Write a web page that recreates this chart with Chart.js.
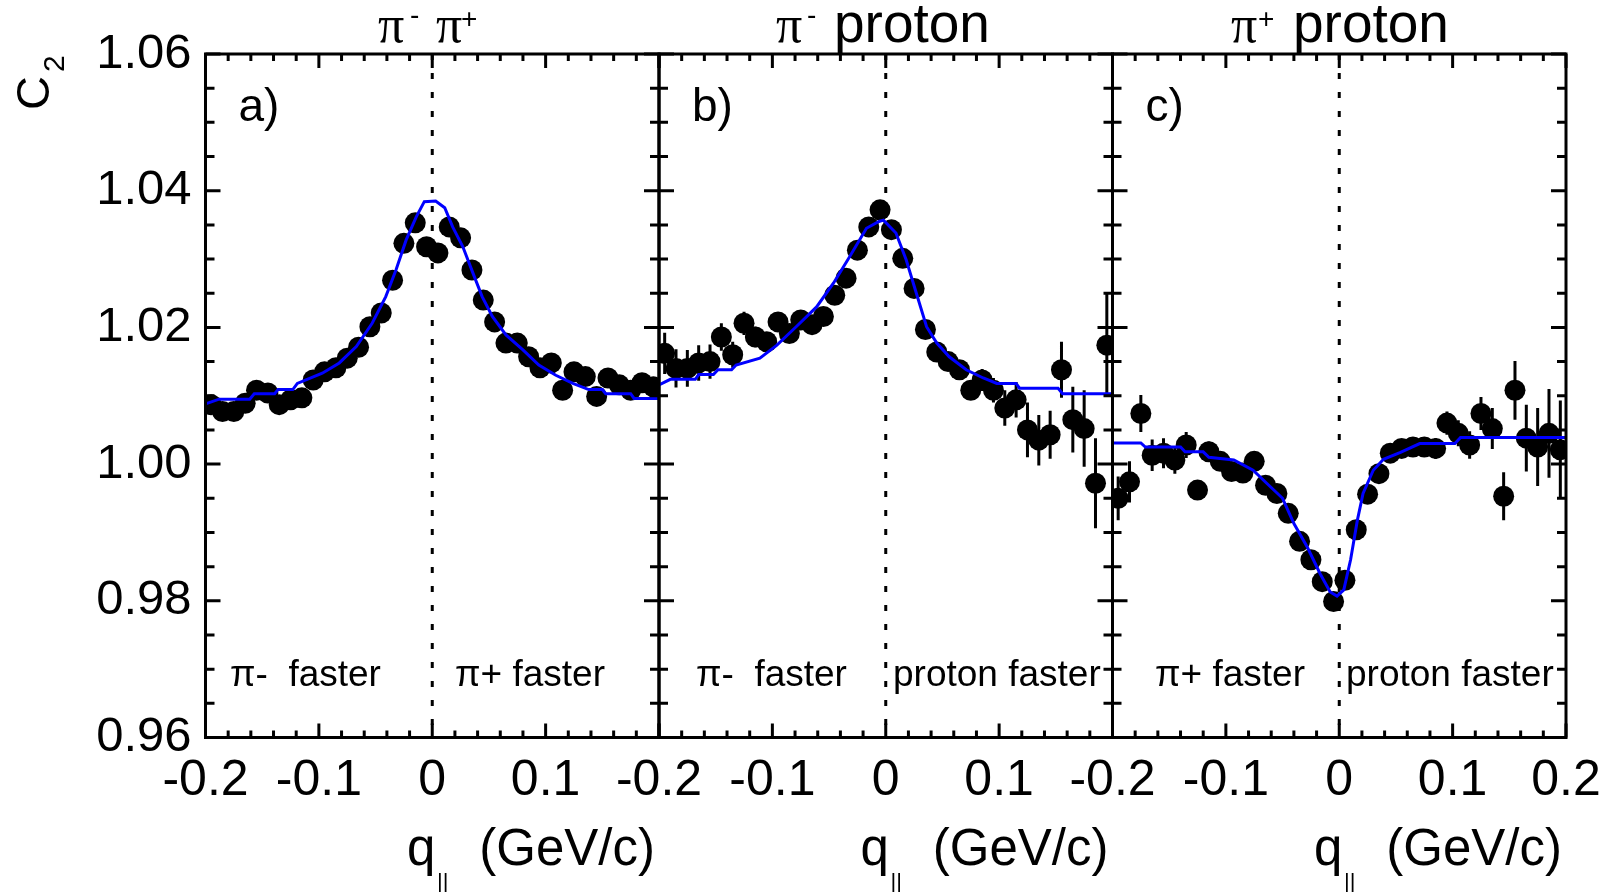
<!DOCTYPE html>
<html>
<head>
<meta charset="utf-8">
<title>C2 vs q||</title>
<script src="https://cdn.jsdelivr.net/npm/chart.js@4.4.1/dist/chart.umd.min.js"></script>
<style>
  html, body { margin: 0; padding: 0; background: #fff; }
  #wrap { position: relative; width: 1611px; height: 892px; }
  #wrap canvas { position: absolute; left: 0; top: 0; }
</style>
</head>
<body>
<div id="wrap">
  <canvas id="panelA" width="1611" height="892"></canvas>
  <canvas id="panelB" width="1611" height="892"></canvas>
  <canvas id="panelC" width="1611" height="892"></canvas>
</div>
<script>
// bin centres of q|| (GeV/c), shared by the three panels
const qBins = [-0.195, -0.185, -0.175, -0.165, -0.155, -0.145, -0.135, -0.125, -0.115, -0.105,
               -0.095, -0.085, -0.075, -0.065, -0.055, -0.045, -0.035, -0.025, -0.015, -0.005,
                0.005,  0.015,  0.025,  0.035,  0.045,  0.055,  0.065,  0.075,  0.085,  0.095,
                0.105,  0.115,  0.125,  0.135,  0.145,  0.155,  0.165,  0.175,  0.185,  0.195];

// a) pi- pi+
const c2A = [1.0087, 1.0077, 1.0077, 1.0089, 1.0108, 1.0104, 1.0087, 1.0094, 1.0097, 1.0123,
             1.0135, 1.0141, 1.0155, 1.0171, 1.0201, 1.0221, 1.0269, 1.0323, 1.0353, 1.0318,
             1.0309, 1.0347, 1.0331, 1.0284, 1.0240, 1.0208, 1.0177, 1.0177, 1.0157, 1.0141,
             1.0148, 1.0108, 1.0135, 1.0128, 1.0099, 1.0126, 1.0116, 1.0108, 1.0119, 1.0113];
const errA = [0.0010, 0.0010, 0.0010, 0.0009, 0.0009, 0.0009, 0.0008, 0.0008, 0.0008, 0.0008,
              0.0007, 0.0007, 0.0007, 0.0007, 0.0007, 0.0007, 0.0007, 0.0007, 0.0007, 0.0007,
              0.0007, 0.0007, 0.0007, 0.0007, 0.0007, 0.0007, 0.0007, 0.0007, 0.0007, 0.0007,
              0.0008, 0.0008, 0.0008, 0.0008, 0.0009, 0.0009, 0.0009, 0.0010, 0.0010, 0.0010];
const fitAx = [-0.200, -0.188, -0.161, -0.157, -0.139, -0.136, -0.123, -0.119, -0.097, -0.082,
               -0.067, -0.053, -0.041, -0.032, -0.023, -0.014, -0.007, 0.003, 0.011, 0.018,
                0.027,  0.036,  0.044,  0.053,  0.065,  0.080,  0.094, 0.109, 0.124, 0.138,
                0.150,  0.153,  0.175,  0.178,  0.200];
const fitAy = [1.0088, 1.0095, 1.0095, 1.0103, 1.0103, 1.0109, 1.0109, 1.0118, 1.0133, 1.0148,
               1.0172, 1.0206, 1.0245, 1.0284, 1.0328, 1.0362, 1.0384, 1.0385, 1.0375, 1.0347,
               1.0318, 1.0279, 1.0245, 1.0216, 1.0189, 1.0167, 1.0145, 1.0130, 1.0118, 1.0109,
               1.0109, 1.0103, 1.0103, 1.0096, 1.0096];

// b) pi- proton
const c2B = [1.0162, 1.0140, 1.0140, 1.0148, 1.0150, 1.0186, 1.0160, 1.0206, 1.0186, 1.0179,
             1.0208, 1.0191, 1.0211, 1.0204, 1.0216, 1.0247, 1.0272, 1.0313, 1.0347, 1.0372,
             1.0343, 1.0301, 1.0257, 1.0197, 1.0164, 1.0150, 1.0138, 1.0108, 1.0123, 1.0108,
             1.0082, 1.0094, 1.0050, 1.0035, 1.0043, 1.0138, 1.0065, 1.0052, 0.9972, 1.0174];
const errB = [0.0030, 0.0028, 0.0027, 0.0026, 0.0025, 0.0020, 0.0019, 0.0017, 0.0015, 0.0014,
              0.0013, 0.0012, 0.0011, 0.0010, 0.0010, 0.0009, 0.0009, 0.0009, 0.0009, 0.0009,
              0.0009, 0.0009, 0.0010, 0.0010, 0.0011, 0.0012, 0.0013, 0.0014, 0.0016, 0.0018,
              0.0026, 0.0026, 0.0040, 0.0037, 0.0035, 0.0041, 0.0048, 0.0056, 0.0066, 0.0075];
const fitBx = [-0.200, -0.190, -0.168, -0.165, -0.152, -0.148, -0.136, -0.132, -0.111, -0.096,
               -0.079, -0.061, -0.046, -0.032, -0.017, -0.006, -0.002, 0.009, 0.018, 0.027,
                0.036,  0.045,  0.056,  0.071,  0.086,  0.098,  0.115, 0.118, 0.152, 0.156,
                0.200];
const fitBy = [1.0116, 1.0124, 1.0124, 1.0131, 1.0131, 1.0138, 1.0138, 1.0145, 1.0155, 1.0174,
               1.0201, 1.0230, 1.0265, 1.0303, 1.0345, 1.0355, 1.0357, 1.0338, 1.0299, 1.0250,
               1.0201, 1.0177, 1.0157, 1.0138, 1.0126, 1.0118, 1.0118, 1.0111, 1.0111, 1.0103,
               1.0103];

// c) pi+ proton
const c2C = [0.9950, 0.9974, 1.0074, 1.0013, 1.0016, 1.0006, 1.0028, 0.9962, 1.0018, 1.0004,
             0.9989, 0.9987, 1.0004, 0.9969, 0.9957, 0.9928, 0.9887, 0.9860, 0.9828, 0.9799,
             0.9830, 0.9904, 0.9956, 0.9986, 1.0016, 1.0023, 1.0025, 1.0025, 1.0023, 1.0060,
             1.0045, 1.0028, 1.0074, 1.0052, 0.9953, 1.0108, 1.0038, 1.0025, 1.0045, 1.0021];
const errC = [0.0032, 0.0030, 0.0027, 0.0023, 0.0022, 0.0020, 0.0019, 0.0012, 0.0015, 0.0014,
              0.0013, 0.0012, 0.0011, 0.0010, 0.0010, 0.0009, 0.0009, 0.0009, 0.0009, 0.0009,
              0.0009, 0.0009, 0.0009, 0.0010, 0.0010, 0.0011, 0.0012, 0.0013, 0.0015, 0.0017,
              0.0019, 0.0020, 0.0024, 0.0030, 0.0035, 0.0043, 0.0049, 0.0057, 0.0065, 0.0072];
const fitCx = [-0.200, -0.175, -0.171, -0.140, -0.136, -0.120, -0.115, -0.093, -0.076, -0.064,
               -0.050, -0.040, -0.028, -0.017, -0.008, -0.002, 0.004, 0.010, 0.016, 0.021,
                0.030,  0.039,  0.054,  0.071,  0.102,  0.107,  0.200];
const fitCy = [1.0031, 1.0031, 1.0025, 1.0025, 1.0018, 1.0018, 1.0010, 1.0006, 0.9991, 0.9972,
               0.9950, 0.9913, 0.9878, 0.9840, 0.9813, 0.9807, 0.9816, 0.9860, 0.9918, 0.9957,
               0.9991, 1.0007, 1.0017, 1.0030, 1.0030, 1.0039, 1.0039];

// tick labels
const yTickLabels = ["0.96", "0.98", "1.00", "1.02", "1.04", "1.06"];
const xTickLabelsInner = ["-0.2", "-0.1", "0", "0.1", ""];
const xTickLabelsLast = ["-0.2", "-0.1", "0", "0.1", "0.2"];

const SANS = '"Liberation Sans", Arial, Helvetica, sans-serif';
const SERIF = '"Liberation Serif", "Times New Roman", serif';
Chart.defaults.font.family = SANS;
Chart.defaults.color = "#000";

// draws pieces of text at given x positions on one baseline
function drawPieces(ctx, pieces, baseline) {
  pieces.forEach((p) => {
    ctx.font = p.font;
    ctx.fillText(p.t, p.x, baseline + (p.dy || 0));
  });
}

const panelDecor = {
  id: "panelDecor",
  beforeDatasetsDraw(chart) {
    const { ctx, chartArea: a, scales: { x, y } } = chart;
    ctx.save();
    // dotted line at q = 0
    const x0 = x.getPixelForValue(0);
    ctx.strokeStyle = "#000";
    ctx.lineWidth = 3;
    ctx.setLineDash([6, 13]);
    ctx.beginPath();
    ctx.moveTo(x0, a.top);
    ctx.lineTo(x0, a.bottom);
    ctx.stroke();
    ctx.setLineDash([]);
    // error bars
    ctx.beginPath();
    chart.data.datasets[1].data.forEach((p) => {
      const px = x.getPixelForValue(p.x);
      ctx.moveTo(px, y.getPixelForValue(p.y + p.err));
      ctx.lineTo(px, y.getPixelForValue(p.y - p.err));
    });
    ctx.stroke();
    ctx.restore();
  },
  afterDatasetsDraw(chart) {
    const { ctx, chartArea: a, scales: { x, y } } = chart;
    ctx.save();
    ctx.strokeStyle = "#000";
    ctx.lineWidth = 3;
    ctx.strokeRect(a.left, a.top, a.right - a.left, a.bottom - a.top);
    // inward ticks
    ctx.beginPath();
    for (let k = -10; k <= 10; k++) {
      const px = x.getPixelForValue(k * 0.02);
      const len = k % 5 === 0 ? 14 : 7;
      ctx.moveTo(px, a.bottom);
      ctx.lineTo(px, a.bottom - len);
      ctx.moveTo(px, a.top);
      ctx.lineTo(px, a.top + len);
    }
    for (let k = 0; k <= 20; k++) {
      const py = y.getPixelForValue(0.96 + k * 0.005);
      const len = k % 4 === 0 ? 15 : 9;
      ctx.moveTo(a.left, py);
      ctx.lineTo(a.left + len, py);
      ctx.moveTo(a.right, py);
      ctx.lineTo(a.right - len, py);
    }
    ctx.stroke();
    ctx.restore();
  },
  afterDraw(chart, args, o) {
    const { ctx, chartArea: a } = chart;
    ctx.save();
    ctx.fillStyle = "#000";
    ctx.textAlign = "left";
    ctx.textBaseline = "alphabetic";
    // title above the panel
    drawPieces(ctx, o.title, 42);
    // panel letter
    ctx.font = "46px " + SANS;
    ctx.fillText(o.letter, a.left + 33, 121);
    // "... faster" notes
    ctx.font = "37px " + SANS;
    o.notes.forEach((n) => ctx.fillText(n.t, n.x, 686));
    // x axis title  q|| (GeV/c)
    ctx.font = "51px " + SANS;
    ctx.fillText("q", a.right - 252, 865);
    ctx.font = "22px " + SANS;
    ctx.fillText("||", a.right - 222, 889);
    ctx.font = "51px " + SANS;
    ctx.textAlign = "right";
    ctx.fillText("(GeV/c)", a.right - 4, 865);
    // y axis title C2 (only on the first panel)
    if (o.yTitle) {
      ctx.textAlign = "left";
      ctx.translate(49, 110);
      ctx.rotate(-Math.PI / 2);
      ctx.font = "47px " + SANS;
      ctx.fillText("C", 0, 0);
      ctx.font = "30px " + SANS;
      ctx.fillText("2", 38, 15);
    }
    ctx.restore();
  },
};

function createPanel(canvasId, p) {
  const ctx = document.getElementById(canvasId).getContext("2d");
  const points = qBins.map((q, i) => ({ x: q, y: p.c2[i], err: p.err[i] }));
  const fit = p.fitX.map((q, i) => ({ x: q, y: p.fitY[i] }));

  return new Chart(ctx, {
    type: "scatter",
    data: {
      datasets: [
        {
          type: "line",
          label: "fit",
          data: fit,
          borderColor: "#0000ff",
          borderWidth: 3,
          pointRadius: 0,
          fill: false,
          tension: 0,
          order: 0,
        },
        {
          label: "data",
          data: points,
          backgroundColor: "#000",
          borderColor: "#000",
          borderWidth: 0,
          pointRadius: 10.5,
          pointHoverRadius: 10.5,
          order: 1,
        },
      ],
    },
    options: {
      responsive: false,
      animation: false,
      devicePixelRatio: 1,
      events: [],
      layout: {
        padding: { left: p.yAxis ? 0 : p.left, right: 1611 - p.right, top: 54, bottom: 0 },
      },
      scales: {
        x: {
          type: "linear",
          min: -0.2,
          max: 0.2,
          afterFit: (s) => { s.height = 154.5; },
          grid: { display: false },
          border: { display: false },
          ticks: {
            stepSize: 0.1,
            autoSkip: false,
            maxRotation: 0,
            padding: 6,
            font: { size: 50 },
            callback: (v, i) => p.xLabels[i],
          },
        },
        y: {
          type: "linear",
          min: 0.96,
          max: 1.06,
          display: p.yAxis,
          afterFit: (s) => { if (p.yAxis) s.width = p.left; },
          grid: { display: false },
          border: { display: false },
          ticks: {
            stepSize: 0.02,
            padding: 6,
            font: { size: 49 },
            callback: (v, i) => yTickLabels[i],
          },
        },
      },
      plugins: {
        legend: { display: false },
        tooltip: { enabled: false },
        panelDecor: p.decor,
      },
    },
    plugins: [panelDecor],
  });
}

const supFont = "28px " + SANS;
const piFont = "52px " + SERIF;
const titleFont = "55px " + SANS;

createPanel("panelA", {
  c2: c2A, err: errA, fitX: fitAx, fitY: fitAy,
  left: 205.5, right: 659, yAxis: true, xLabels: xTickLabelsInner,
  decor: {
    letter: "a)",
    yTitle: true,
    title: [
      { t: "π", x: 378, font: piFont },
      { t: "-", x: 410, font: supFont, dy: -18 },
      { t: "π", x: 436, font: piFont },
      { t: "+", x: 461, font: supFont, dy: -14 },
    ],
    notes: [{ t: "π-  faster", x: 230 }, { t: "π+ faster", x: 455 }],
  },
});

createPanel("panelB", {
  c2: c2B, err: errB, fitX: fitBx, fitY: fitBy,
  left: 659, right: 1112.5, yAxis: false, xLabels: xTickLabelsInner,
  decor: {
    letter: "b)",
    yTitle: false,
    title: [
      { t: "π", x: 776, font: piFont },
      { t: "-", x: 807, font: supFont, dy: -18 },
      { t: "proton", x: 834, font: titleFont },
    ],
    notes: [{ t: "π-  faster", x: 696 }, { t: "proton faster", x: 893 }],
  },
});

createPanel("panelC", {
  c2: c2C, err: errC, fitX: fitCx, fitY: fitCy,
  left: 1112.5, right: 1566, yAxis: false, xLabels: xTickLabelsLast,
  decor: {
    letter: "c)",
    yTitle: false,
    title: [
      { t: "π", x: 1231, font: piFont },
      { t: "+", x: 1258, font: supFont, dy: -14 },
      { t: "proton", x: 1293, font: titleFont },
    ],
    notes: [{ t: "π+ faster", x: 1155 }, { t: "proton faster", x: 1346 }],
  },
});
</script>
</body>
</html>
